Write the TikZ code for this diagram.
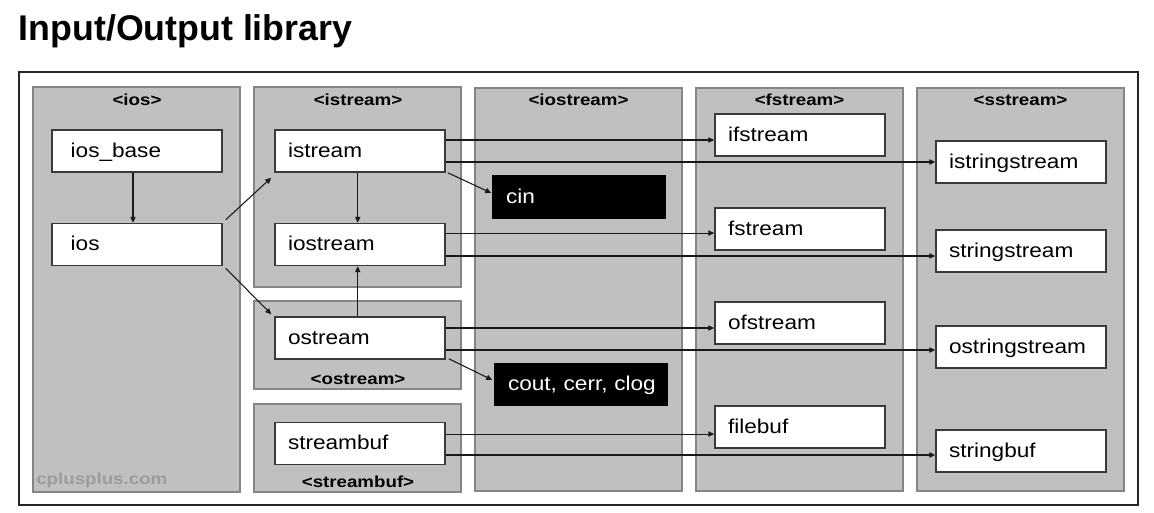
\documentclass[tikz,border=0pt]{standalone}
\usepackage{fontspec}
\setmainfont{Liberation Sans}
\newfontfamily\boxfont[FakeStretch=1.13]{Liberation Sans}
\newfontfamily\headfont[FakeStretch=1.17]{Liberation Sans}
\usetikzlibrary{arrows.meta}
\definecolor{panelfill}{HTML}{C0C0C0}
\definecolor{panelline}{HTML}{858585}
\definecolor{boxline}{HTML}{3A3A3A}
\definecolor{brandgray}{HTML}{9C9C9C}
\tikzset{
  panel/.style={fill=panelfill, draw=panelline, line width=1.5pt},
  head/.style={inner sep=0pt, font=\headfont\bfseries\fontsize{12pt}{13pt}\selectfont},
  cls/.style={draw=boxline, line width=1.1pt, fill=white, minimum width=127.5pt, minimum height=31.5pt,
    inner xsep=9.75pt, text width=108pt, align=left, text height=10.5pt, text depth=1.5pt,
    font=\boxfont\fontsize{15pt}{16pt}\selectfont},
  iosbox/.style={cls, inner xsep=14pt, text width=99.5pt},
  objbox/.style={cls, fill=black, draw=black, text=white, minimum width=129pt, text width=109.5pt},
  arr/.style={draw=black!90, line width=0.8pt, -{Triangle[length=4.5pt,width=4pt]}}
}
\begin{document}
\begin{tikzpicture}[x=0.75pt,y=-0.75pt]
\useasboundingbox (0,0) rectangle (1154,512);
\fill[white] (0,0) rectangle (1154,512);

\node[anchor=base west, inner sep=0pt, font=\fontsize{26.8pt}{30pt}\selectfont\bfseries] (title) at (18.5,40) {Input/Output library};

\draw[draw=black!85, line width=1.5pt] (19,72) rectangle (1138,505);

% panels
\path[panel] (33,87) rectangle (240,492);
\path[panel] (254,87) rectangle (461,287);
\path[panel] (254,301) rectangle (461,389);
\path[panel] (254,404) rectangle (461,492);
\path[panel] (475,88) rectangle (682,491);
\path[panel] (696,88) rectangle (903,491);
\path[panel] (917,88) rectangle (1124,491);

% headers
\node[head] (hios) at (137,100) {<ios>};
\node[head] (histream) at (358,100) {<istream>};
\node[head] (hostream) at (358,379) {<ostream>};
\node[head] (hstreambuf) at (358,481.5) {<streambuf>};
\node[head] (hiostream) at (578.5,100) {<iostream>};
\node[head] (hfstream) at (799.5,100) {<fstream>};
\node[head] (hsstream) at (1020.5,100) {<sstream>};
\node[head, anchor=base west, text=brandgray] (brand) at (36,484) {cplusplus.com};

% class boxes
\node[iosbox] (ios_base) at (137,151) {ios\_base};
\node[iosbox] (ios) at (137,244.5) {ios};
\node[cls] (istream) at (360,151) {istream};
\node[cls] (iostream) at (360,244.5) {iostream};
\node[cls] (ostream) at (360,338) {ostream};
\node[cls] (streambuf) at (360,443.5) {streambuf};
\node[objbox] (cin) at (579,197) {cin};
\node[objbox] (cout) at (581,384.5) {\mbox{cout, cerr, clog}};
\node[cls] (ifstream) at (800,135) {ifstream};
\node[cls] (fstream) at (800,229) {fstream};
\node[cls] (ofstream) at (800,323) {ofstream};
\node[cls] (filebuf) at (800,427) {filebuf};
\node[cls] (istringstream) at (1021,162) {istringstream};
\node[cls] (stringstream) at (1021,251) {stringstream};
\node[cls] (ostringstream) at (1021,347) {ostringstream};
\node[cls] (stringbuf) at (1021,451) {stringbuf};

% vertical arrows
\draw[arr] ([xshift=-3pt]ios_base.south) -- ([xshift=-3pt]ios.north);
\draw[arr] ([xshift=-1.7pt]istream.south) -- ([xshift=-1.7pt]iostream.north);
\draw[arr] ([xshift=-1.7pt]ostream.north) -- ([xshift=-1.7pt]iostream.south);

% diagonal arrows
\draw[arr] ([shift={(2.25pt,2.25pt)}]ios.north east) -- ([shift={(-2.25pt,-3.75pt)}]istream.south west);
\draw[arr] ([shift={(2.25pt,-1.5pt)}]ios.south east) -- ([shift={(-2.25pt,1.5pt)}]ostream.north west);
\draw[arr] ([shift={(1.5pt,0pt)}]istream.south east) -- ([shift={(-0.75pt,3pt)}]cin.west);
\draw[arr] ([shift={(2.25pt,0.75pt)}]ostream.south east) -- ([shift={(-1.5pt,3.4pt)}]cout.west);

% horizontal arrows
\draw[arr] ([yshift=8.25pt]istream.east) -- ([yshift=8.25pt]istream.east -| ifstream.west);
\draw[arr] ([yshift=-8.25pt]istream.east) -- ([yshift=-8.25pt]istream.east -| istringstream.west);
\draw[arr] ([yshift=8.6pt]iostream.east) -- ([yshift=8.6pt]iostream.east -| fstream.west);
\draw[arr] ([yshift=-8.6pt]iostream.east) -- ([yshift=-8.6pt]iostream.east -| stringstream.west);
\draw[arr] ([yshift=7.5pt]ostream.east) -- ([yshift=7.5pt]ostream.east -| ofstream.west);
\draw[arr] ([yshift=-9pt]ostream.east) -- ([yshift=-9pt]ostream.east -| ostringstream.west);
\draw[arr] ([yshift=7.1pt]streambuf.east) -- ([yshift=7.1pt]streambuf.east -| filebuf.west);
\draw[arr] ([yshift=-8.6pt]streambuf.east) -- ([yshift=-8.6pt]streambuf.east -| stringbuf.west);
\end{tikzpicture}
\end{document}
